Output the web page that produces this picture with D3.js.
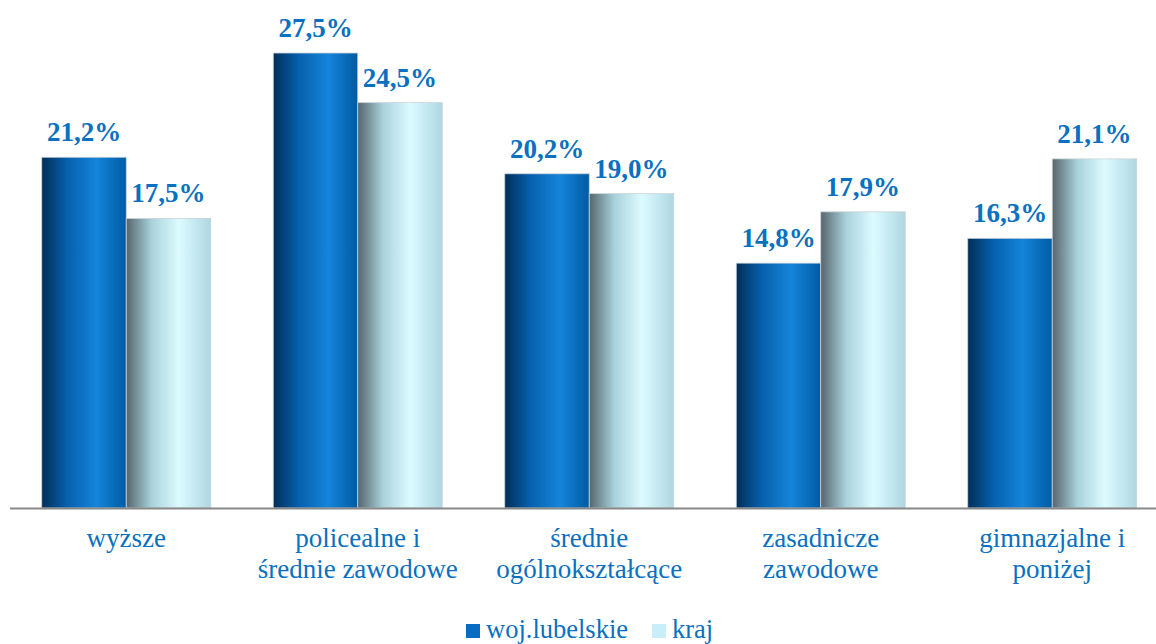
<!DOCTYPE html>
<html>
<head>
<meta charset="utf-8">
<script src="https://cdn.jsdelivr.net/npm/d3@7"></script>
<style>
  body { margin: 0; background: #fff; }
  svg text { font-family: "Times New Roman", Times, "Liberation Serif", Tinos, serif; }
</style>
</head>
<body>
<div id="chart"></div>
<script>
// categories (two-line labels)
var categories = [
  ["wyższe"],
  ["policealne i", "średnie zawodowe"],
  ["średnie", "ogólnokształcące"],
  ["zasadnicze", "zawodowe"],
  ["gimnazjalne i", "poniżej"]
];
var seriesNames = ["woj.lubelskie", "kraj"];
var lubelskie = [21.2, 27.5, 20.2, 14.8, 16.3];
var kraj = [17.5, 24.5, 19.0, 17.9, 21.1];

var width = 1156, height = 644;
var baseY = 508;

var svg = d3.select("#chart").append("svg")
  .attr("width", width).attr("height", height);

// gradients for the shaded bars
var defs = svg.append("defs");
var g1 = defs.append("linearGradient").attr("id", "gDark");
g1.append("stop").attr("offset", "0%").attr("stop-color", "#012e58");
g1.append("stop").attr("offset", "30%").attr("stop-color", "#0660ad");
g1.append("stop").attr("offset", "65%").attr("stop-color", "#1584da");
g1.append("stop").attr("offset", "100%").attr("stop-color", "#005ba3");
var g2 = defs.append("linearGradient").attr("id", "gLight");
g2.append("stop").attr("offset", "0%").attr("stop-color", "#56656c");
g2.append("stop").attr("offset", "30%").attr("stop-color", "#a9d2dc");
g2.append("stop").attr("offset", "62%").attr("stop-color", "#dcfbff");
g2.append("stop").attr("offset", "100%").attr("stop-color", "#aed7e1");

var x0 = d3.scaleBand().domain(d3.range(categories.length))
  .range([10.5, 1168]).paddingInner(0.27).paddingOuter(0.135);
var x1 = d3.scaleBand().domain([0, 1]).range([0, x0.bandwidth()]);
var y = d3.scaleLinear().domain([0, 30]).range([baseY, baseY - 30 * 16.545]);

var fills = ["url(#gDark)", "url(#gLight)"];
var series = [lubelskie, kraj];

series.forEach(function(vals, s) {
  svg.append("g").selectAll("rect").data(vals).enter().append("rect")
    .attr("x", function(d, i) { return x0(i) + x1(s); })
    .attr("y", function(d) { return y(d); })
    .attr("width", x1.bandwidth())
    .attr("height", function(d) { return baseY - y(d); })
    .attr("fill", fills[s])
    .attr("stroke", "#c9d3da").attr("stroke-width", 0.8);

  svg.append("g").selectAll("text").data(vals).enter().append("text")
    .attr("x", function(d, i) { return x0(i) + x1(s) + x1.bandwidth() / 2; })
    .attr("y", function(d) { return y(d) - 16; })
    .attr("text-anchor", "middle")
    .attr("font-size", "27px").attr("font-weight", "bold")
    .attr("fill", "#0a70c0")
    .text(function(d) { return d.toFixed(1).replace(".", ",") + "%"; });
});

// axis line
svg.append("line").attr("x1", 10).attr("x2", width)
  .attr("y1", baseY + 0.5).attr("y2", baseY + 0.5)
  .attr("stroke", "#888").attr("stroke-width", 2);

// category labels
var cat = svg.append("g").selectAll("text").data(categories).enter().append("text")
  .attr("text-anchor", "middle").attr("font-size", "27px").attr("fill", "#0a70c0")
  .attr("transform", function(d, i) { return "translate(" + (x0(i) + x0.bandwidth() / 2) + ",0)"; });
cat.selectAll("tspan").data(function(d) { return d; }).enter().append("tspan")
  .attr("x", 0).attr("y", function(d, i) { return 547 + i * 31; })
  .text(function(d) { return d; });

// legend
var legend = svg.append("g");
var legX = [466, 652];
var legColors = ["#0a6cc0", "#c8eefa"];
seriesNames.forEach(function(name, i) {
  legend.append("rect").attr("x", legX[i]).attr("y", 624)
    .attr("width", 14).attr("height", 14).attr("fill", legColors[i]);
  legend.append("text").attr("x", legX[i] + 20).attr("y", 638)
    .attr("font-size", "26.5px").attr("fill", "#0a70c0").text(name);
});
</script>
</body>
</html>
